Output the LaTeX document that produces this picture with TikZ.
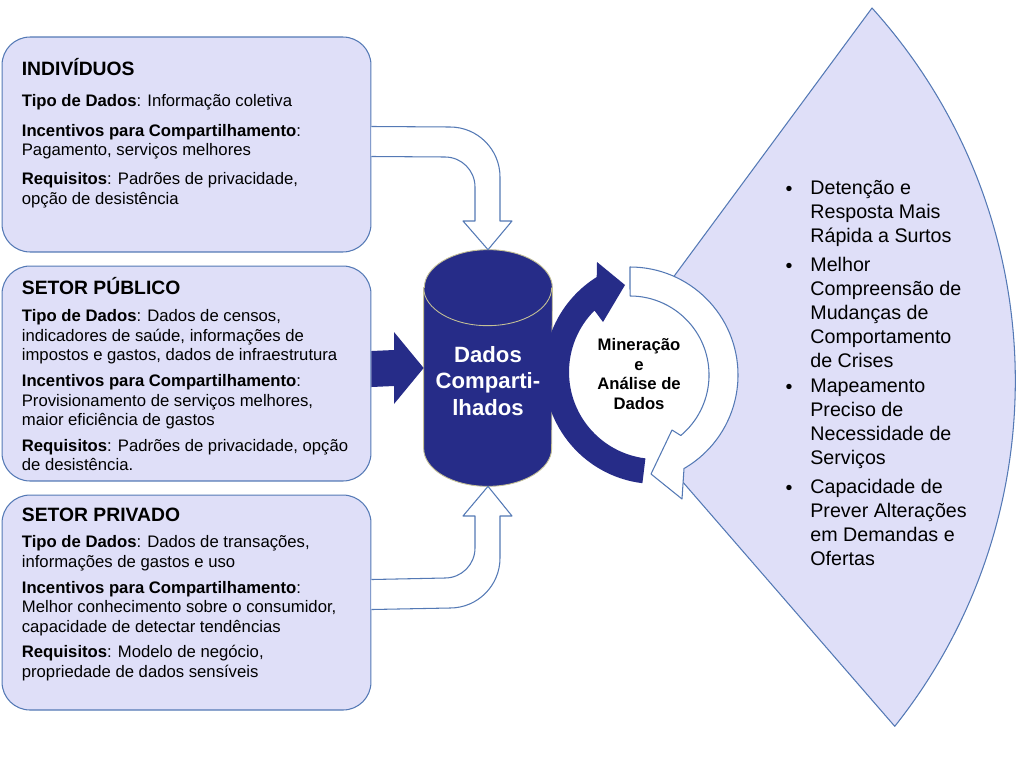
\documentclass[tikz,border=0pt]{standalone}
\usepackage{fontspec}
\setmainfont{Liberation Sans}
\usetikzlibrary{positioning,calc}
\definecolor{lavender}{RGB}{223,223,248}
\definecolor{rimblue}{RGB}{84,121,181}
\definecolor{navy}{RGB}{38,44,136}
\definecolor{rimtan}{RGB}{196,192,150}
\newcommand{\fld}[1]{\textbf{#1}}

\begin{document}
\begin{tikzpicture}[x=0.02cm, y=0.02cm, line join=round,
	srcbox/.style={draw=rimblue, fill=lavender, line width=0.6pt, rounded corners=0.56cm,
		minimum width=7.38cm, minimum height=4.3cm},
	boxtitle/.style={inner sep=0pt, font=\fontsize{11}{13}\selectfont\bfseries},
	boxbody/.style={inner sep=0pt, align=left, font=\fontsize{9.5}{11.1}\selectfont},
	hollowarrow/.style={draw=rimblue, fill=white, line width=0.6pt},
	navyarrow/.style={fill=navy},
	cyltext/.style={inner sep=0pt, align=center, text=white, font=\fontsize{12.6}{15.3}\selectfont\bfseries},
	cycletext/.style={inner sep=0pt, align=center, font=\fontsize{9.5}{11.3}\selectfont\bfseries},
	benefit/.style={inner sep=0pt, align=left, font=\fontsize{11.2}{13.6}\selectfont},
	dot/.style={inner sep=0pt, font=\fontsize{11.2}{13.6}\selectfont}]
	\useasboundingbox (0,0) rectangle (1023,-767);

	% fan of results
	\filldraw[draw=rimblue, fill=lavender, line width=0.6pt] (596,-382) -- (872,-8)
		arc[start angle=42.08, end angle=-38.45, radius=556] -- cycle;
	\fill[white] (630,-375) circle[radius=108];

	% sources
	\node[srcbox] (indiv) at (186.5,-144.5) {};
	\node[srcbox, below=0.26cm of indiv] (public) {};
	\node[srcbox, below=0.26cm of public] (private) {};

	\node[boxtitle, anchor=base west] (indivT) at ($(indiv.north west)+(20,-39)$) {INDIVÍDUOS};
	\node[boxbody, anchor=north west] (indivB) at ($(indiv.north west)+(20,-58)$)
		{\fld{Tipo de Dados}: Informação coletiva\\[5.5pt]
		\fld{Incentivos para Compartilhamento}:\\
		Pagamento, serviços melhores\\[5.5pt]
		\fld{Requisitos}: Padrões de privacidade,\\
		opção de desistência};

	\node[boxtitle, anchor=base west] (publicT) at ($(public.north west)+(20,-29)$) {SETOR PÚBLICO};
	\node[boxbody, anchor=north west] (publicB) at ($(public.north west)+(20,-44)$)
		{\fld{Tipo de Dados}: Dados de censos,\\
		indicadores de saúde, informações de\\
		impostos e gastos, dados de infraestrutura\\[3.5pt]
		\fld{Incentivos para Compartilhamento}:\\
		Provisionamento de serviços melhores,\\
		maior eficiência de gastos\\[3.5pt]
		\fld{Requisitos}: Padrões de privacidade, opção\\
		de desistência.};

	\node[boxtitle, anchor=base west] (privateT) at ($(private.north west)+(20,-27)$) {SETOR PRIVADO};
	\node[boxbody, anchor=north west] (privateB) at ($(private.north west)+(20,-41)$)
		{\fld{Tipo de Dados}: Dados de transações,\\
		informações de gastos e uso\\[3.5pt]
		\fld{Incentivos para Compartilhamento}:\\
		Melhor conhecimento sobre o consumidor,\\
		capacidade de detectar tendências\\[3.5pt]
		\fld{Requisitos}: Modelo de negócio,\\
		propriedade de dados sensíveis};

	% shared data store
	\node[minimum width=2.56cm, minimum height=4.72cm, inner sep=0pt] (shared) at (488,-368) {};
	\filldraw[fill=navy, draw=rimtan, line width=0.5pt] ($(shared.north west)+(0,-38)$)
		-- ($(shared.south west)+(0,38)$) arc[start angle=180, end angle=360, x radius=64, y radius=38]
		-- ($(shared.north east)+(0,-38)$) arc[start angle=0, end angle=180, x radius=64, y radius=38] -- cycle;
	\draw[rimtan, line width=0.5pt] ($(shared.north west)+(0,-38)$)
		arc[start angle=180, end angle=360, x radius=64, y radius=38];
	\node[cyltext] (sharedT) at ($(shared.center)+(0,-13)$) {Dados\\Comparti-\\lhados};

	% flows into the store
	\filldraw[hollowarrow] ($(indiv.north east)+(0,-90)$) -- (450,-127)
		arc[start angle=90, end angle=0, radius=50] -- (500,-221) -- (512,-221) -- (shared.north)
		-- (463,-221) -- (475,-221) -- (475,-187) arc[start angle=0, end angle=90, radius=30]
		-- ($(indiv.north east)+(0,-120)$);
	\fill[navyarrow] ($(public.east)+(0,22.5)$) -- (394,-350) -- (394,-332) -- (shared.west)
		-- (394,-404) -- (394,-386) -- ($(public.east)+(0,-13.5)$) -- cycle;
	\filldraw[hollowarrow] ($(private.north east)+(0,-85)$) -- (445,-578)
		arc[start angle=-90, end angle=0, radius=30] -- (475,-516) -- (463,-516) -- (shared.south)
		-- (512,-516) -- (500,-516) -- (500,-558) arc[start angle=0, end angle=-90, radius=50]
		-- ($(private.north east)+(0,-115)$);

	% mining cycle
	\fill[navyarrow] (642.4,-483.2) arc[start angle=263, end angle=122, radius=112]
		-- (597,-262) -- (625,-285) -- (603,-322) -- (594.5,-310.5)
		arc[start angle=135, end angle=263, radius=87] -- cycle;
	\filldraw[hollowarrow] (630,-267) arc[start angle=90, end angle=-60, radius=108]
		-- (682,-499) -- (651,-474) -- (672,-430) -- (680.8,-435.5)
		arc[start angle=-50, end angle=90, radius=79] -- cycle;
	\node[cycletext] (mining) at (639,-374) {Mineração\\e\\Análise de\\Dados};

	% results
	\node[benefit, anchor=north west] (gain1) at (810,-180) {Detenção e\\Resposta Mais\\Rápida a Surtos};
	\node[benefit, below=6pt of gain1.south west, anchor=north west] (gain2)
		{Melhor\\Compreensão de\\Mudanças de\\Comportamento\\de Crises};
	\node[benefit, below=6pt of gain2.south west, anchor=north west] (gain3)
		{Mapeamento\\Preciso de\\Necessidade de\\Serviços};
	\node[benefit, below=6pt of gain3.south west, anchor=north west] (gain4)
		{Capacidade de\\Prever Alterações\\em Demandas e\\Ofertas};
	\foreach \g in {gain1,gain2,gain3,gain4}
		\node[dot, anchor=base] at ($(\g.north west)+(-21,-15)$) {•};
\end{tikzpicture}
\end{document}
